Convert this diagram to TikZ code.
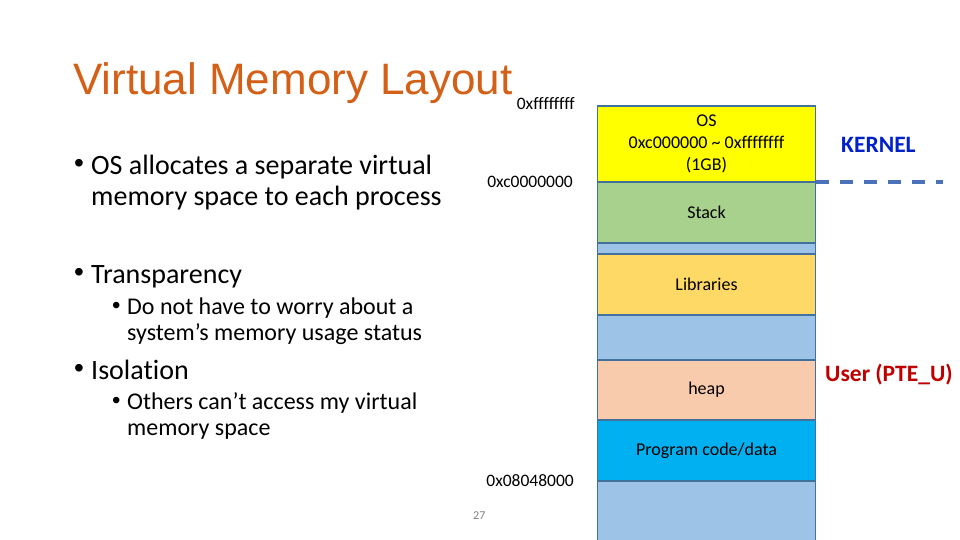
\documentclass[tikz,border=0pt]{standalone}
\usepackage{fontspec}
\setmainfont{Carlito}[Ligatures=NoCommon]
\newfontfamily\titlefont{Liberation Sans}
\usetikzlibrary{positioning}
\definecolor{titleorange}{RGB}{212,96,24}
\definecolor{osyellow}{HTML}{FFFF00}
\definecolor{stackgreen}{HTML}{A9D18E}
\definecolor{freeblue}{HTML}{9DC3E6}
\definecolor{libyellow}{HTML}{FFD966}
\definecolor{heappeach}{HTML}{F8CBAD}
\definecolor{progcyan}{HTML}{00B0F0}
\definecolor{segline}{HTML}{41719C}
\definecolor{dashblue}{HTML}{4A72B8}
\definecolor{kernblue}{RGB}{0,32,204}
\definecolor{userred}{HTML}{C00000}
\tikzset{
  seg/.style={draw=segline, line width=1.5pt, outer sep=0pt, inner sep=0pt,
    minimum width=218pt, align=center, font=\fontsize{18}{22}\selectfont},
  addr/.style={anchor=base east, inner sep=0pt, font=\fontsize{17.5}{20}\selectfont},
  itemA/.style={anchor=base west, inner sep=0pt, font=\fontsize{28}{34}\selectfont},
  itemB/.style={anchor=base west, inner sep=0pt, font=\fontsize{24}{29}\selectfont},
  kernline/.style={draw=dashblue, line width=4pt, dash pattern=on 13pt off 11pt}
}
\begin{document}
\begin{tikzpicture}[x=1pt,y=-1pt]
  \useasboundingbox (0,0) rectangle (960,540);
  % title
  \node[anchor=base west, inner sep=0pt, text=titleorange,
    font=\titlefont\fontsize{44}{52}\selectfont] (title) at (73,95) {Virtual Memory Layout};
  % bullets
  \foreach \y in {175,283,379}
    \node[itemA, font=\titlefont\fontsize{28}{34}\selectfont] (dotA\y) at (74,\y-2) {\textbullet};
  \foreach \y in {314,409}
    \node[itemB, font=\titlefont\fontsize{24}{29}\selectfont] (dotB\y) at (112,\y-1) {\textbullet};
  \node[itemA] (osA) at (91,175) {OS allocates a separate virtual};
  \node[itemA] (osB) at (91,205) {memory space to each process};
  \node[itemA] (trans) at (91,283) {Transparency};
  \node[itemB] (transA) at (127,314) {Do not have to worry about a};
  \node[itemB] (transB) at (127,340) {system’s memory usage status};
  \node[itemA] (iso) at (91,379) {Isolation};
  \node[itemB] (isoA) at (127,409) {Others can’t access my virtual};
  \node[itemB] (isoB) at (127,435) {memory space};
  % memory column
  \node[seg, fill=osyellow, minimum height=76pt] (os) at (706.5,144)
    {OS\\0xc000000 \textasciitilde{} 0xffffffff\\(1GB)};
  \node[seg, fill=stackgreen, minimum height=61pt, below=0pt of os] (stack) {Stack};
  \node[seg, fill=freeblue, minimum height=11pt, below=0pt of stack] (gapA) {};
  \node[seg, fill=libyellow, minimum height=61pt, below=0pt of gapA] (libs) {Libraries};
  \node[seg, fill=freeblue, minimum height=45pt, below=0pt of libs] (gapB) {};
  \node[seg, fill=heappeach, minimum height=60pt, below=0pt of gapB] (heap) {heap};
  \node[seg, fill=progcyan, minimum height=61pt, below=0pt of heap] (prog) {Program code/data};
  \node[seg, fill=freeblue, minimum height=60pt, below=0pt of prog] (gapC) {};
  % addresses
  \node[addr] (addrTop) at (575,110) {0xffffffff};
  \node[addr] (addrKern) at (573,187) {0xc0000000};
  \node[addr] (addrCode) at (574,486) {0x08048000};
  \node[anchor=base west, inner sep=0pt, text=gray, font=\fontsize{12}{14}\selectfont] (pageno) at (473,519) {27};
  % kernel / user split
  \coordinate (kernEnd) at (943,182);
  \draw[kernline] (os.south east) -- (kernEnd);
  \node[anchor=base west, inner sep=0pt, text=kernblue,
    font=\bfseries\fontsize{23.5}{28}\selectfont] (kern) at (841,153) {KERNEL};
  \node[anchor=base west, inner sep=0pt, text=userred,
    font=\bfseries\fontsize{23.5}{28}\selectfont] (user) at (825,381) {User (PTE\_U)};
\end{tikzpicture}
\end{document}
